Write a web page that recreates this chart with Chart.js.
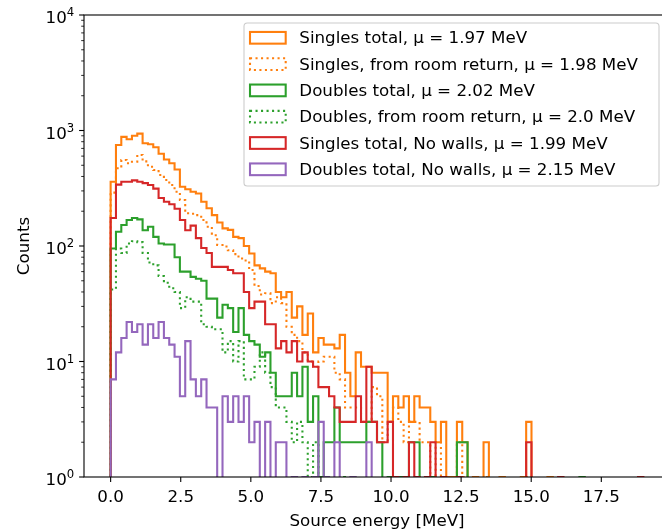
<!DOCTYPE html>
<html><head><meta charset="utf-8">
<script src="https://cdn.jsdelivr.net/npm/chart.js@4/dist/chart.umd.min.js"></script>
<style>
html,body{margin:0;padding:0;background:#fff;overflow:hidden;width:662px;height:532px;}
#wrap{position:absolute;left:0;top:0;width:700px;height:532px;}
</style></head><body>
<div id="wrap"><canvas id="c" width="700" height="532"></canvas></div>
<script>
// ---- data ----
const binWidth = 0.19; // MeV, bins start at 0
const xTickValues = [0, 2.5, 5, 7.5, 10, 12.5, 15, 17.5];
const yTickExponents = [0, 1, 2, 3, 4];
const xTitle = 'Source energy [MeV]';
const yTitle = 'Counts';
const seriesLabels = [
  'Singles total, \u03bc = 1.97 MeV',
  'Singles, from room return, \u03bc = 1.98 MeV',
  'Doubles total, \u03bc = 2.02 MeV',
  'Doubles, from room return, \u03bc = 2.0 MeV',
  'Singles total, No walls, \u03bc = 1.99 MeV',
  'Doubles total, No walls, \u03bc = 2.15 MeV'
];
const singlesTotal = [
  360,750,880,840,900,940,775,760,715,630,
  560,520,460,326,310,295,285,242,212,185,
  160,142,138,120,117,100,86,68,64,60,
  58,40,36,40,24,30,17,26,12,16,
  14,14,13,17,8,5,12,9,9,8,
  8,8,3,5,4,5,3,5,4,4,
  3,2,3,1,1,3,2,0,1,0,
  2,0,0,1,0,0,0,1,3,0,
  0,0,1,0,0,0,0,0,0,0,
  0,0,0,0,0,0,0,0,0,0];
const singlesRoom = [
  290,471,556,520,537,614,540,486,455,412,
  373,337,295,250,192,190,185,168,147,124,
  102,99,92,85,78,75,62,45,38,39,
  32,36,32,20,17,15,12,10,9,10,
  11,11,8,7,4,4,4,3,3,6,
  5,2,3,4,3,2,3,3,2,2,
  1,2,1,1,1,2,1,0,0,0,
  1,0,0,0,0,0,0,0,1,0,
  0,0,0,0,0,0,0,0,0,0,
  0,0,0,0,0,0,0,0,0,0];
const doublesTotal = [
  95,133,152,168,175,170,137,147,120,105,
  103,103,80,60,60,54,52,50,35,35,
  24,31,29,18,29,17,15,14,11,12,
  8,5,5,5,8,5,9,3,5,1,
  2,2,4,2,2,2,2,2,3,3,
  2,0,1,0,1,0,2,2,0,0,
  1,0,0,0,0,2,2,0,0,0,
  0,0,0,0,0,0,0,0,0,0,
  0,0,0,0,0,0,0,0,1,0,
  0,0,0,0,0,0,0,0,0,0];
const doublesRoom = [
  42,95,87,105,110,108,87,72,68,55,
  48,43,40,29,36,33,33,21,20,19,
  19,12,15,10,15,7,7,9,12,8,
  6,4,4,3,2,3,2,1,2,0,
  1,0,0,1,0,0,0,0,0,0,
  0,0,0,0,0,0,0,0,0,0,
  0,0,0,0,0,0,0,0,0,0,
  0,0,0,0,0,0,0,0,0,0,
  0,0,0,0,0,0,0,0,0,0,
  0,0,0,0,0,0,0,0,0,0];
const singlesNoWalls = [
  175,340,360,360,370,360,350,337,314,260,
  242,230,210,168,137,150,117,96,87,66,
  66,66,62,58,58,40,29,33,33,21,
  21,13,15,12,15,10,12,10,9,6,
  6,5,4,3,3,3,5,3,9,3,
  2,2,3,1,0,1,2,1,0,1,
  2,0,1,0,0,1,0,0,0,0,
  0,0,0,0,0,0,0,0,2,0,
  0,0,0,0,1,0,0,0,0,0,
  0,0,0,0,0,0,0,0,0,1];
const doublesNoWalls = [
  7,12,16,22,18,21,14,21,16,22,
  16,14,11,5,15,7,5,7,4,4,
  0,5,3,5,3,5,2,3,0,3,
  0,2,2,0,1,0,1,0,1,3,
  1,0,2,0,0,1,0,0,2,0,
  0,0,0,0,0,0,0,0,0,0,
  0,0,0,0,0,0,0,0,0,0,
  0,0,0,0,0,0,0,0,0,0,
  0,0,0,0,0,0,0,0,0,0,
  0,0,0,0,0,0,0,0,0,0];

// ---- styles ----
const allSeries = [singlesTotal, singlesRoom, doublesTotal, doublesRoom, singlesNoWalls, doublesNoWalls];
const colors = ['#ff7f0e', '#ff7f0e', '#2ca02c', '#2ca02c', '#d62728', '#9467bd'];
const dotted = [false, true, false, true, false, false];
const LW = 2.08;
const DOT = [2.08, 3.43];
const FONT = '16.7px "DejaVu Sans", sans-serif';
const FONT_SUP = '11.7px "DejaVu Sans", sans-serif';
const FLOOR = 1e-3; // empty bins fall below the log axis

function steps(counts) {
  const pts = [{x: 0, y: FLOOR}];
  counts.forEach((c, i) => pts.push({x: i * binWidth, y: c > 0 ? c : FLOOR}));
  pts.push({x: counts.length * binWidth, y: FLOOR});
  return pts;
}

const datasets = allSeries.map((s, k) => ({
  label: seriesLabels[k],
  data: steps(s),
  borderColor: colors[k],
  backgroundColor: colors[k],
  borderWidth: LW,
  borderDash: dotted[k] ? DOT : [],
  borderCapStyle: 'butt',
  borderJoinStyle: 'miter',
  stepped: 'before',
  pointRadius: 0,
  fill: false,
  order: allSeries.length - k
}));

const decorations = {
  id: 'decorations',
  afterDraw(chart) {
    const ctx = chart.ctx, a = chart.chartArea;
    const xs = chart.scales.x, ys = chart.scales.y;
    ctx.save();
    // frame
    ctx.strokeStyle = '#000'; ctx.lineWidth = 1.1; ctx.setLineDash([]);
    ctx.strokeRect(a.left, a.top, a.right - a.left, a.bottom - a.top);
    // x ticks & labels
    ctx.fillStyle = '#000'; ctx.font = FONT; ctx.textAlign = 'center'; ctx.textBaseline = 'alphabetic';
    xTickValues.forEach(v => {
      const px = xs.getPixelForValue(v);
      ctx.beginPath(); ctx.moveTo(px, a.bottom); ctx.lineTo(px, a.bottom + 4.9); ctx.lineWidth = 1.1; ctx.stroke();
      ctx.fillText(v.toFixed(1), px, a.bottom + 24.5);
    });
    // y ticks
    yTickExponents.forEach(e => {
      const base = Math.pow(10, e);
      const py = ys.getPixelForValue(base);
      ctx.beginPath(); ctx.moveTo(a.left, py); ctx.lineTo(a.left - 4.9, py); ctx.lineWidth = 1.1; ctx.stroke();
      if (e < yTickExponents[yTickExponents.length - 1]) {
        for (let m = 2; m <= 9; m++) {
          const pm = ys.getPixelForValue(m * base);
          ctx.beginPath(); ctx.moveTo(a.left, pm); ctx.lineTo(a.left - 2.8, pm); ctx.lineWidth = 0.83; ctx.stroke();
        }
      }
      const right = a.left - 9.8;
      ctx.font = FONT_SUP;
      const ew = ctx.measureText(String(e)).width;
      ctx.textAlign = 'left';
      ctx.fillText(String(e), right - ew, py + 1);
      ctx.font = FONT;
      ctx.textAlign = 'right';
      ctx.fillText('10', right - ew, py + 8);
    });
    // axis titles
    ctx.font = FONT; ctx.textAlign = 'center'; ctx.textBaseline = 'alphabetic';
    ctx.fillText(xTitle, (a.left + a.right) / 2, 526);
    ctx.save();
    ctx.translate(29, (a.top + a.bottom) / 2);
    ctx.rotate(-Math.PI / 2);
    ctx.fillText(yTitle, 0, 0);
    ctx.restore();
    // legend
    const L = {x: 244, y: 23, w: 415, h: 163, r: 3.3};
    ctx.beginPath();
    ctx.roundRect(L.x, L.y, L.w, L.h, L.r);
    ctx.fillStyle = 'rgba(255,255,255,0.8)'; ctx.fill();
    ctx.strokeStyle = '#cccccc'; ctx.lineWidth = 1.1; ctx.stroke();
    chart.data.datasets.forEach((d, k) => {
      const cy = 37.8 + 26.3 * k;
      ctx.strokeStyle = d.borderColor; ctx.lineWidth = LW;
      ctx.setLineDash(d.borderDash || []);
      ctx.strokeRect(250, cy - 5.85, 35.7, 11.7);
      ctx.setLineDash([]);
      ctx.fillStyle = '#000'; ctx.font = FONT; ctx.textAlign = 'left'; ctx.textBaseline = 'alphabetic';
      ctx.fillText(d.label, 299.3, cy + 5.6);
    });
    ctx.restore();
  }
};

new Chart(document.getElementById('c'), {
  type: 'line',
  data: {datasets},
  options: {
    responsive: false, animation: false, devicePixelRatio: 1,
    parsing: false, normalized: true,
    layout: {padding: {left: 84, top: 15, right: 30, bottom: 55}},
    scales: {
      x: {type: 'linear', min: -0.95, max: 19.95, display: false},
      y: {type: 'logarithmic', min: 1, max: 10000, display: false}
    },
    plugins: {legend: {display: false}, tooltip: {enabled: false}},
    elements: {line: {tension: 0}, point: {radius: 0}}
  },
  plugins: [decorations]
});
</script>
</body></html>
